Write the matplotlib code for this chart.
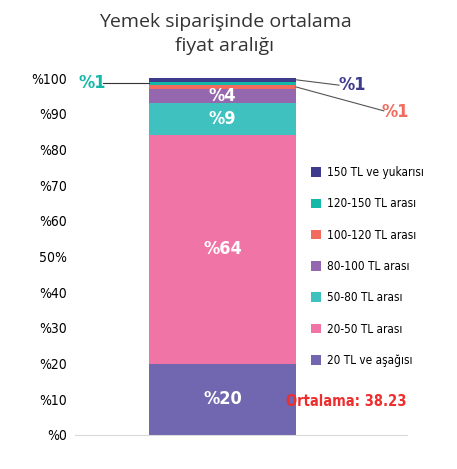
import matplotlib.pyplot as plt

plt.rcParams['font.family'] = ['DejaVu Sans']
plt.rcParams['font.stretch'] = 'condensed'

# ── data ──
categories = ["20 TL ve aşağısı", "20-50 TL arası", "50-80 TL arası",
              "80-100 TL arası", "100-120 TL arası", "120-150 TL arası",
              "150 TL ve yukarısı"]
values = [20, 64, 9, 4, 1, 1, 1]
colors = ["#7067B0", "#F074A6", "#3FC1C0", "#9467AE", "#F26B5E", "#14B8A9", "#3E3A8C"]
tick_vals = [0, 10, 20, 30, 40, 50, 60, 70, 80, 90, 100]
tick_labels = ["%0", "%10", "%20", "%30", "%40", "50%", "%60", "%70", "%80", "%90", "%100"]
mean_text = "Ortalama: 38.23"

W, H = 457, 469
fig = plt.figure(figsize=(W / 100, H / 100), dpi=100)
ax = fig.add_axes([75 / W, 1 - 435 / H, 332 / W, (435 - 78) / H])
ax.set_xlim(0, 1)
ax.set_ylim(0, 100)

bar_x, bar_w = 0.444, 0.443
bottom = 0
mids = []
for v, c, lab in zip(values, colors, categories):
    ax.bar(bar_x, v, bar_w, bottom=bottom, color=c, label=lab, zorder=2)
    mids.append(bottom + v / 2)
    bottom += v

# inside labels for big segments
for v, m in zip(values, mids):
    if v >= 4:
        ax.text(bar_x, m, f"%{v}", ha="center", va="center", color="white",
                fontsize=13, fontweight="bold", zorder=3)

# small segments with leader lines
right = bar_x + bar_w / 2
left = bar_x - bar_w / 2
# 120-150 (teal) to the left
ax.plot([left, 0.085], [mids[5], mids[5]], color="#333", lw=0.8, clip_on=False)
ax.text(0.052, mids[5], f"%{values[5]}", ha="center", va="center",
        color=colors[5], fontsize=13, fontweight="bold")
# 150+ (navy) to the right
ax.plot([right, 0.795], [mids[6], 98.0], color="#555", lw=0.8, clip_on=False)
ax.text(0.835, 98.0, f"%{values[6]}", ha="center", va="center",
        color=colors[6], fontsize=13, fontweight="bold")
# 100-120 (salmon) to the right
ax.plot([right, 0.93], [mids[4], 90.8], color="#555", lw=0.8, clip_on=False)
ax.text(0.965, 90.6, f"%{values[4]}", ha="center", va="center",
        color=colors[4], fontsize=13, fontweight="bold")

ax.set_yticks(tick_vals)
ax.set_yticklabels(tick_labels, fontsize=10)
ax.tick_params(axis="y", length=0, pad=6)
ax.set_xticks([])
for s in ["top", "right", "left"]:
    ax.spines[s].set_visible(False)
ax.spines["bottom"].set_color("#d9d9d9")

handles, labels = ax.get_legend_handles_labels()
ax.legend(handles[::-1], labels[::-1], loc="center left",
          bbox_to_anchor=(0.678, 0.472), frameon=False, fontsize=8.5,
          handlelength=0.85, handleheight=0.85, labelspacing=1.55,
          handletextpad=0.5)

ax.text(1.0, 9.3, mean_text, ha="right", va="center", color="#EE2E2E",
        fontsize=10.5, fontweight="bold")

fig.text(225 / W, 1 - 34 / H, "Yemek siparişinde ortalama\nfiyat aralığı",
         ha="center", va="center", fontsize=14, color="#333333",
         family=["Open Sans", "DejaVu Sans"], stretch="normal",
         linespacing=1.45)

fig.savefig("out.png", dpi=100)
